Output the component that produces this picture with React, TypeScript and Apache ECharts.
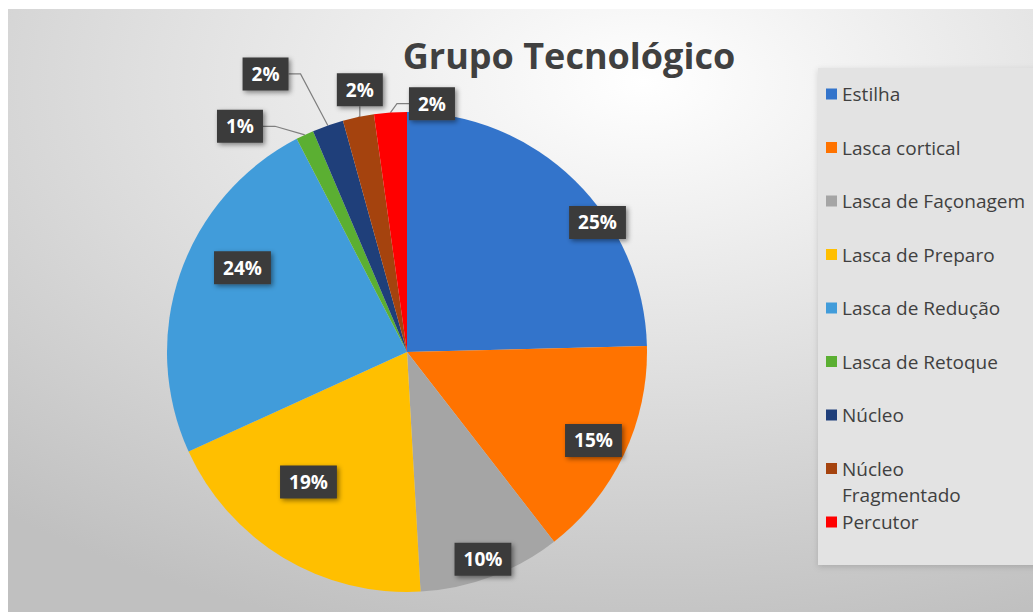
import React, { useEffect, useRef } from "react";
import * as echarts from "echarts";

const titleText = "Grupo Tecnológico";
const categories = [
  "Estilha",
  "Lasca cortical",
  "Lasca de Façonagem",
  "Lasca de Preparo",
  "Lasca de Redução",
  "Lasca de Retoque",
  "Núcleo",
  "Núcleo Fragmentado",
  "Percutor",
];
const values = [24.6, 14.9, 9.6, 19.1, 24.2, 1.2, 2.1, 2.1, 2.2];
const colors = [
  "#3374CB",
  "#FF7300",
  "#A5A5A5",
  "#FFBF00",
  "#419CDA",
  "#5BAF32",
  "#1F3F7A",
  "#A5430E",
  "#FF0000",
];
const insideLabel = [true, true, true, true, true, false, false, false, false];
// label placement (fraction of radius, angular shift from slice middle in degrees)
const labelRadiusFrac = [0.96, 0.86, 0.92, 0.68, 0.77, 1.17, 1.3, 1.11, 1.04];
const labelAngleShift = [11.5, 0, 0.4, 6, 8, -11.3, -7.7, 1.5, 9.7];

const PIE_CX = 399;
const PIE_CY = 343;
const PIE_R = 240;
const LEGEND_FIRST_CENTER = 85;
const LEGEND_STEP = 53.5;
const LEGEND_LINE = 26;

export default function App() {
  const ref = useRef<HTMLDivElement>(null);
  useEffect(() => {
    document.body.style.margin = "0";
    if (!ref.current) return;
    const chart = echarts.init(ref.current, null, { renderer: "svg" });
    const total = values.reduce((a, b) => a + b, 0);
    const mids: number[] = [];
    let acc = 0;
    values.forEach((v) => {
      mids.push(((acc + v / 2) / total) * 360);
      acc += v;
    });

    const legends = categories.map((name, i) => {
      const twoLine = name === "Núcleo Fragmentado";
      const center = LEGEND_FIRST_CENTER + i * LEGEND_STEP;
      return {
        data: [name],
        orient: "vertical",
        left: 818,
        top: center - (twoLine ? LEGEND_LINE * 1.5 : LEGEND_LINE / 2),
        padding: 0,
        itemWidth: 11,
        itemHeight: 11,
        icon: "rect",
        formatter: twoLine ? "\nNúcleo\nFragmentado" : "{name}",
        textStyle: {
          fontFamily: "Open Sans",
          fontSize: 19,
          color: "#404040",
          lineHeight: LEGEND_LINE,
        },
      };
    });

    chart.setOption({
      animation: false,
      backgroundColor: new echarts.graphic.RadialGradient(0.62, 0.12, 0.95, [
        { offset: 0, color: "#ffffff" },
        { offset: 0.5, color: "#e0e0e0" },
        { offset: 1, color: "#c0c0c0" },
      ]),
      color: colors,
      title: {
        text: titleText,
        left: 556,
        top: 23,
        textAlign: "center",
        textStyle: {
          fontFamily: "Open Sans",
          fontWeight: "bold",
          fontSize: 36,
          color: "#404040",
        },
      },
      graphic: [
        {
          type: "rect",
          shape: { x: 810, y: 59, width: 230, height: 497 },
          style: {
            fill: "#e3e3e3",
            shadowBlur: 6,
            shadowColor: "rgba(0,0,0,0.15)",
            shadowOffsetY: 2,
          },
          z: -1,
          silent: true,
        },
      ],
      legend: legends,
      series: [
        {
          type: "pie",
          center: [PIE_CX, PIE_CY],
          radius: PIE_R,
          startAngle: 90,
          clockwise: true,
          avoidLabelOverlap: false,
          data: categories.map((name, i) => ({
            name,
            value: values[i],
            label: { position: insideLabel[i] ? "inside" : "outside" },
            labelLine: { show: !insideLabel[i] },
          })),
          label: {
            formatter: (p: any) => Math.round(p.percent) + "%",
            fontFamily: "Open Sans",
            fontWeight: "bold",
            fontSize: 19,
            color: "#ffffff",
            backgroundColor: "#3a3a3a",
            padding: [7, 9],
            shadowColor: "rgba(0,0,0,0.45)",
            shadowBlur: 5,
            shadowOffsetX: 2,
            shadowOffsetY: 2,
          },
          labelLine: {
            length: 10,
            length2: 12,
            lineStyle: { color: "#7f7f7f", width: 1.2 },
          },
          labelLayout: (params: any) => {
            const i = params.dataIndex;
            const a = ((mids[i] + labelAngleShift[i]) * Math.PI) / 180;
            const r = PIE_R * labelRadiusFrac[i];
            return {
              x: PIE_CX + r * Math.sin(a),
              y: PIE_CY - r * Math.cos(a),
              align: "center",
              verticalAlign: "middle",
            };
          },
        },
      ],
    });
    return () => chart.dispose();
  }, []);
  return (
    <div style={{ position: "relative", width: 1033, height: 612, background: "#ffffff", overflow: "hidden" }}>
      <div
        ref={ref}
        style={{ position: "absolute", left: 8, top: 9, width: 1025, height: 603 }}
      />
    </div>
  );
}
